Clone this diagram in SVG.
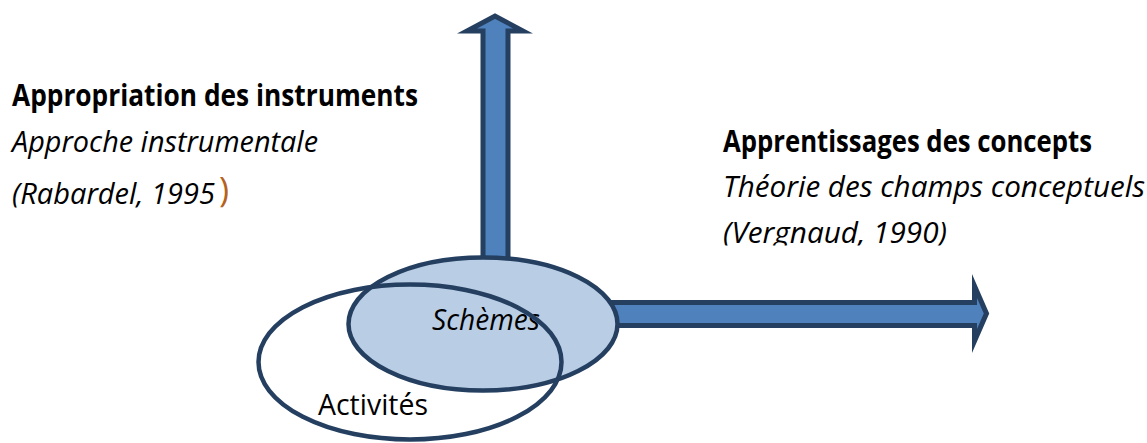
<svg xmlns="http://www.w3.org/2000/svg" width="1147" height="443" viewBox="0 0 1147 443">
  <style>
    .t { font-family: "Open Sans", "Noto Sans", sans-serif; font-size: 29.5px; fill: #000; }
    .b { font-weight: bold; }
    .i { font-style: italic; }
    .arrow { fill: #4F81BD; stroke: #243F60; stroke-width: 5; stroke-linejoin: miter; stroke-miterlimit: 10; }
    .ell { stroke: #243F60; stroke-width: 4.5; }
  </style>
  <defs>
    <clipPath id="clipL"><rect x="0" y="160" width="300" height="47.5"/></clipPath>
    <clipPath id="clipR"><rect x="700" y="205" width="447" height="40.5"/></clipPath>
  </defs>
  <rect width="1147" height="443" fill="#ffffff"/>

  <g id="connectors">
    <path class="arrow" d="M483,300 L483,31 L467,31 L495,16 L523,31 L508,31 L508,300 Z"/>
    <path class="arrow" d="M580,302.5 L974.5,302.5 L974.5,286 L986.5,313.5 L974.5,341 L974.5,325.5 L580,325.5 Z"/>
  </g>

  <g id="node-schemes">
    <ellipse class="ell" cx="483" cy="324" rx="134.5" ry="66.5" fill="#B9CDE5"/>
    <text class="t i" x="432" y="330" textLength="108" lengthAdjust="spacingAndGlyphs">Schèmes</text>
  </g>

  <g id="node-activites">
    <ellipse class="ell" cx="410" cy="362" rx="151.5" ry="77.5" fill="none"/>
    <text class="t" x="318" y="415" textLength="110" lengthAdjust="spacingAndGlyphs">Activités</text>
  </g>

  <g id="label-instruments">
    <text class="t b" x="12" y="106" textLength="406" lengthAdjust="spacingAndGlyphs">Appropriation des instruments</text>
    <text class="t i" x="12" y="152" textLength="306" lengthAdjust="spacingAndGlyphs">Approche instrumentale</text>
    <g clip-path="url(#clipL)">
      <text class="t i" x="12" y="204" textLength="203" lengthAdjust="spacingAndGlyphs">(Rabardel, 1995</text>
      <text x="219" y="202" style="font-family: 'Open Sans', 'Noto Sans', sans-serif; font-size: 34px; fill: #B5621C;">)</text>
    </g>
  </g>

  <g id="label-concepts">
    <text class="t b" x="723" y="152" textLength="369" lengthAdjust="spacingAndGlyphs">Apprentissages des concepts</text>
    <text class="t i" x="723" y="197" textLength="422" lengthAdjust="spacingAndGlyphs">Théorie des champs conceptuels</text>
    <g clip-path="url(#clipR)">
      <text class="t i" x="723" y="243" textLength="224" lengthAdjust="spacingAndGlyphs">(Vergnaud, 1990)</text>
    </g>
  </g>
</svg>
